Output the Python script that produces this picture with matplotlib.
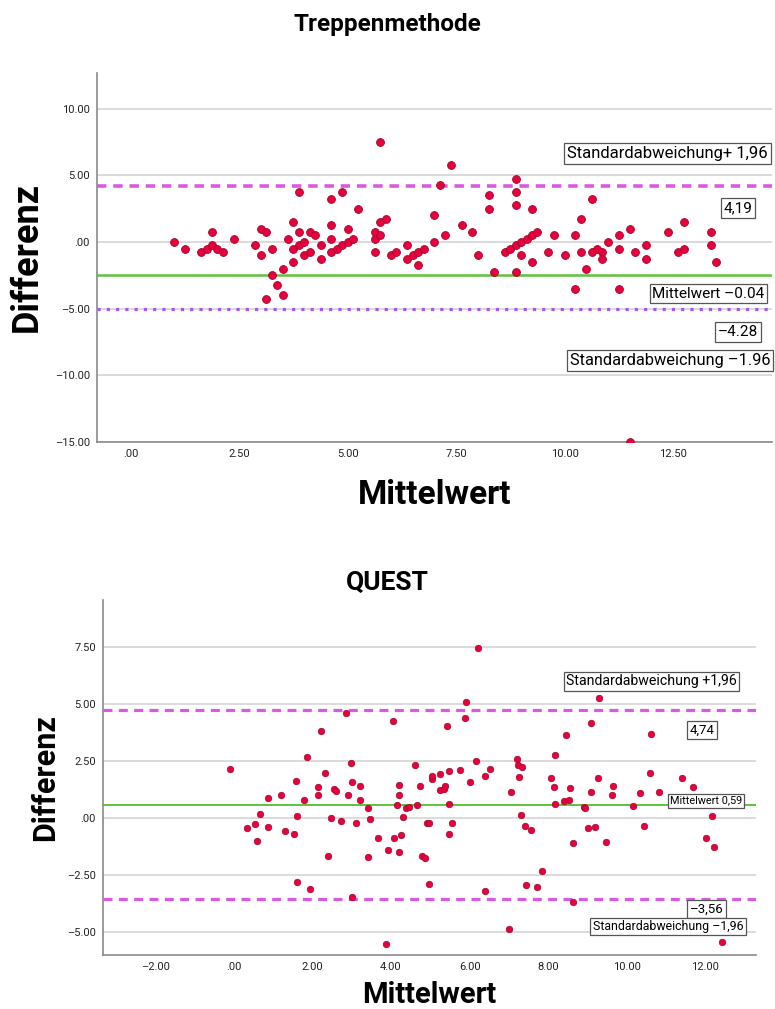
import matplotlib
matplotlib.use("Agg")
import matplotlib.pyplot as plt

plt.rcParams['font.family'] = ['Roboto', 'DejaVu Sans']

# Treppenmethode: Mittelwert (x) und Differenz (y)
trep_x = [1.0, 1.25, 1.625, 1.75, 1.875, 1.875, 2.0, 2.125, 2.375, 2.875, 3.0, 3.0, 3.125, 3.25, 3.25,
          3.125, 3.375, 3.5, 3.5, 3.75, 3.625, 3.75, 3.75, 3.875, 3.875, 3.875, 4.0, 4.0, 4.125, 4.125,
          4.25, 4.375, 4.375, 4.625, 4.625, 4.625, 4.625, 4.75, 4.875, 4.875, 5.0, 5.0, 5.125, 5.25,
          5.75, 5.625, 5.625, 5.625, 5.75, 5.75, 5.875, 6.0, 6.125, 6.375, 6.375, 6.5, 6.625, 6.625,
          6.75, 7.0, 7.0, 7.125, 7.25, 7.375, 7.625, 7.875, 8.0, 8.25, 8.25, 8.375, 8.625, 8.75,
          8.875, 8.875, 8.875, 8.875, 8.875, 9.0, 9.0, 9.125, 9.25, 9.25, 9.25, 9.375,
          9.75, 9.625, 10.0, 10.25, 10.25, 10.375, 10.375, 10.5, 10.625, 10.625, 10.75, 10.875, 10.875,
          11.0, 11.25, 11.25, 11.25, 11.5, 11.625, 11.875, 11.875, 12.375, 12.625, 12.75, 12.75,
          13.375, 13.375, 13.5, 11.5]
trep_y = [0, -0.5, -0.75, -0.5, 0.75, -0.25, -0.5, -0.75, 0.25, -0.25, 1.0, -1.0, 0.75, -0.5, -2.5,
          -4.25, -3.25, -2.0, -4.0, 1.5, 0.25, -0.5, -1.5, 0.75, -0.25, 3.75, 0, -1.0, 0.75, -0.75,
          0.5, -0.25, -1.25, 3.25, 1.25, 0.25, -0.75, -0.5, 3.75, -0.25, 1.0, 0, 0.25, 2.5,
          7.5, 0.75, 0.25, -0.75, 1.5, 0.5, 1.75, -1.0, -0.75, -0.25, -1.25, -1.0, -0.75, -1.75,
          -0.5, 2.0, 0, 4.25, 0.5, 5.75, 1.25, 0.75, -1.0, 3.5, 2.5, -2.25, -0.75, -0.5,
          4.75, 3.75, 2.75, -0.25, -2.25, 0, -1.0, 0.25, 2.5, 0.5, -1.5, 0.75,
          0.5, -0.75, -1.0, 0.5, -3.5, 1.75, -0.75, -2.0, 3.25, -0.75, -0.5, -0.75, -1.25,
          0, 0.5, -0.5, -3.5, 1.0, -0.75, -0.25, -1.25, 0.75, -0.75, 1.5, -0.5,
          0.75, -0.25, -1.5, -15.0]
trep_upper, trep_mean, trep_lower = 4.19, -2.5, -5.0
trep_yticks = [-15, -10, -5, 0, 5, 10]
trep_yticklabels = ["–15.00", "–10.00", "–5.00", ".00", "5.00", "10.00"]
trep_xticks = [0, 2.5, 5, 7.5, 10, 12.5]
trep_xticklabels = [".00", "2.50", "5.00", "7.50", "10.00", "12.50"]

# QUEST
quest_x = [-0.10, 0.33, 0.53, 0.58, 0.67, 0.87, 0.87, 1.21, 1.29, 1.52, 1.59, 1.61, 1.60, 1.79, 1.85,
           1.93, 2.13, 2.14, 2.21, 2.31, 2.39, 2.47, 2.56, 2.60, 2.72, 2.85, 2.91, 2.98, 3.01, 3.00,
           3.10, 3.21, 3.21, 3.42, 3.41, 3.47, 3.67, 3.86, 3.91,
           4.04, 4.08, 4.14, 4.21, 4.21, 4.19, 4.25, 4.30, 4.37, 4.45, 4.62, 4.67, 4.74, 4.80, 4.87,
           4.91, 4.96, 4.96, 5.05, 5.05, 5.24, 5.24, 5.35, 5.38, 5.42, 5.47, 5.47, 5.48, 5.55, 5.75,
           5.87, 5.90, 6.00, 6.16, 6.22, 6.38, 6.40, 6.52, 7.01, 7.06, 7.20, 7.23, 7.33, 7.26, 7.30,
           7.40, 7.57, 7.44, 7.72, 7.85, 8.08, 8.15, 8.18, 8.18, 8.45, 8.40, 8.55,
           8.54, 8.63, 8.62, 8.90, 8.94, 9.02, 9.19, 9.10, 9.08, 9.30, 9.28, 9.46, 9.62, 9.65, 10.15,
           10.33, 10.45, 10.60, 10.61, 10.81, 11.40, 11.69, 12.01, 12.16, 12.23, 12.43]
quest_y = [2.15, -0.45, -0.26, -1.02, 0.16, 0.90, -0.38, 0.99, -0.57, -0.70, 1.61, 0.10, -2.79, 0.80, 2.69,
           -3.11, 0.99, 1.35, 3.81, 1.98, -1.67, 0.00, 1.28, 1.19, -0.13, 4.62, 1.02, 2.41, 1.58, -3.46,
           -0.20, 1.42, 0.81, 0.42, -1.69, -0.06, -0.87, -5.51, -1.41,
           4.27, -0.87, 0.58, 1.47, 1.00, -1.50, -0.73, 0.04, 0.45, 0.49, 2.31, 0.58, 1.41, -1.66, -1.74,
           -0.20, -0.23, -2.88, 1.72, 1.85, 1.21, 1.92, 1.26, 1.41, 4.03, 2.06, 0.60, -0.70, -0.23, 2.09,
           4.37, 5.07, 1.56, 2.49, 7.47, 1.85, -3.20, 2.17, -4.85, 1.12, 2.60, 2.34, 2.24, 1.82, 0.15,
           -0.33, -0.51, -2.95, -3.01, -2.31, 1.77, 1.37, 2.76, 0.60, 3.66, 0.74, 1.32,
           0.78, -3.69, -1.09, 0.48, 0.45, -0.42, -0.39, 1.15, 4.16, 5.26, 1.76, -1.05, 0.99, 1.42, 0.54,
           1.10, -0.33, 1.96, 3.69, 1.15, 1.76, 1.35, -0.89, 0.10, -1.25, -5.41]
quest_upper, quest_mean, quest_lower = 4.74, 0.59, -3.56
quest_yticks = [-5, -2.5, 0, 2.5, 5, 7.5]
quest_yticklabels = ["–5.00", "–2.50", ".00", "2.50", "5.00", "7.50"]
quest_xticks = [-2, 0, 2, 4, 6, 8, 10, 12]
quest_xticklabels = ["–2.00", ".00", "2.00", "4.00", "6.00", "8.00", "10.00", "12.00"]

DOT = "#E8003D"
DOT_EDGE = "#9E0A2E"
MAGENTA = "#D95AE0"
VIOLET = "#A555F2"
GREEN = "#5DC43C"
GRID = "#D4D4D4"
box = dict(boxstyle="square,pad=0.18", fc="white", ec="#555555", lw=0.9)

fig = plt.figure(figsize=(7.75, 10.09), dpi=100)
ax1 = fig.add_axes([0.125, 0.562, 0.871, 0.366])
ax2 = fig.add_axes([0.1325, 0.0535, 0.8435, 0.352])


def style_axes(ax, xticks, xlabels, yticks, ylabels):
    ax.set_xticks(xticks)
    ax.set_xticklabels(xlabels)
    ax.set_yticks(yticks)
    ax.set_yticklabels(ylabels)
    ax.tick_params(length=0, labelsize=8, labelcolor="#222222", pad=5)
    for y in yticks:
        ax.axhline(y, color=GRID, lw=1.2, zorder=0)
    for s in ["top", "right"]:
        ax.spines[s].set_visible(False)
    for s in ["left", "bottom"]:
        ax.spines[s].set_color("#8A8A8A")
        ax.spines[s].set_linewidth(1.2)


# --- Treppenmethode ---
style_axes(ax1, trep_xticks, trep_xticklabels, trep_yticks, trep_yticklabels)
ax1.set_xlim(-0.78, 14.78)
ax1.set_ylim(-15, 12.7)
ax1.axhline(trep_upper, color=MAGENTA, lw=2.6, dashes=(2.6, 1.9), dash_capstyle="butt", zorder=2)
ax1.axhline(trep_mean, color=GREEN, lw=1.8, zorder=2)
ax1.axhline(trep_lower, color=VIOLET, lw=2.3, dashes=(1.0, 1.9), dash_capstyle="butt", zorder=2)
ax1.scatter(trep_x, trep_y, s=32, c=DOT, edgecolors=DOT_EDGE, linewidths=0.6, zorder=3)

ax1.text(12.38, 6.65, "Standardabweichung+ 1,96", ha="center", va="center", fontsize=12, bbox=box)
ax1.text(14.0, 2.53, "4,19", ha="center", va="center", fontsize=11, bbox=box)
ax1.text(13.32, -3.87, "Mittelwert –0.04", ha="center", va="center", fontsize=11, bbox=box)
ax1.text(14.0, -6.75, "–4.28", ha="center", va="center", fontsize=11, bbox=box)
ax1.text(12.43, -8.9, "Standardabweichung –1.96", ha="center", va="center", fontsize=11.8, bbox=box)

fig.text(0.5, 1 - 25 / 1009, "Treppenmethode", ha="center", va="center", fontsize=17.5, fontweight="bold")
ax1.text(0.5, -0.1435, "Mittelwert", transform=ax1.transAxes, ha="center", va="center",
         fontsize=24, fontweight="bold")
ax1.text(-0.1037, 0.5, "Differenz", transform=ax1.transAxes, ha="center", va="center",
         rotation=90, fontsize=26, fontweight="bold")

# --- QUEST ---
style_axes(ax2, quest_xticks, quest_xticklabels, quest_yticks, quest_yticklabels)
ax2.set_xlim(-3.34, 13.3)
ax2.set_ylim(-6.0, 9.56)
ax2.axhline(quest_upper, color=MAGENTA, lw=2.3, dashes=(2.8, 2.0), dash_capstyle="butt", zorder=2)
ax2.axhline(quest_mean, color=GREEN, lw=1.4, zorder=2)
ax2.axhline(quest_lower, color=MAGENTA, lw=2.3, dashes=(2.8, 2.0), dash_capstyle="butt", zorder=2)
ax2.scatter(quest_x, quest_y, s=22, c=DOT, edgecolors=DOT_EDGE, linewidths=0.5, zorder=3)

ax2.text(10.63, 5.99, "Standardabweichung +1,96", ha="center", va="center", fontsize=10.2, bbox=box)
ax2.text(11.91, 3.86, "4,74", ha="center", va="center", fontsize=9.5, bbox=box)
ax2.text(12.01, 0.76, "Mittelwert 0,59", ha="center", va="center", fontsize=7.8, bbox=box)
ax2.text(12.03, -4.0, "–3,56", ha="center", va="center", fontsize=9.5, bbox=box)
ax2.text(11.05, -4.76, "Standardabweichung –1,96", ha="center", va="center", fontsize=8.9, bbox=box)

fig.text(0.5, 1 - 583 / 1009, "QUEST", ha="center", va="center", fontsize=19, fontweight="bold")
ax2.text(0.5, -0.1127, "Mittelwert", transform=ax2.transAxes, ha="center", va="center",
         fontsize=21, fontweight="bold")
ax2.text(-0.0882, 0.5, "Differenz", transform=ax2.transAxes, ha="center", va="center",
         rotation=90, fontsize=22, fontweight="bold")

fig.savefig("out.png", dpi=100)
